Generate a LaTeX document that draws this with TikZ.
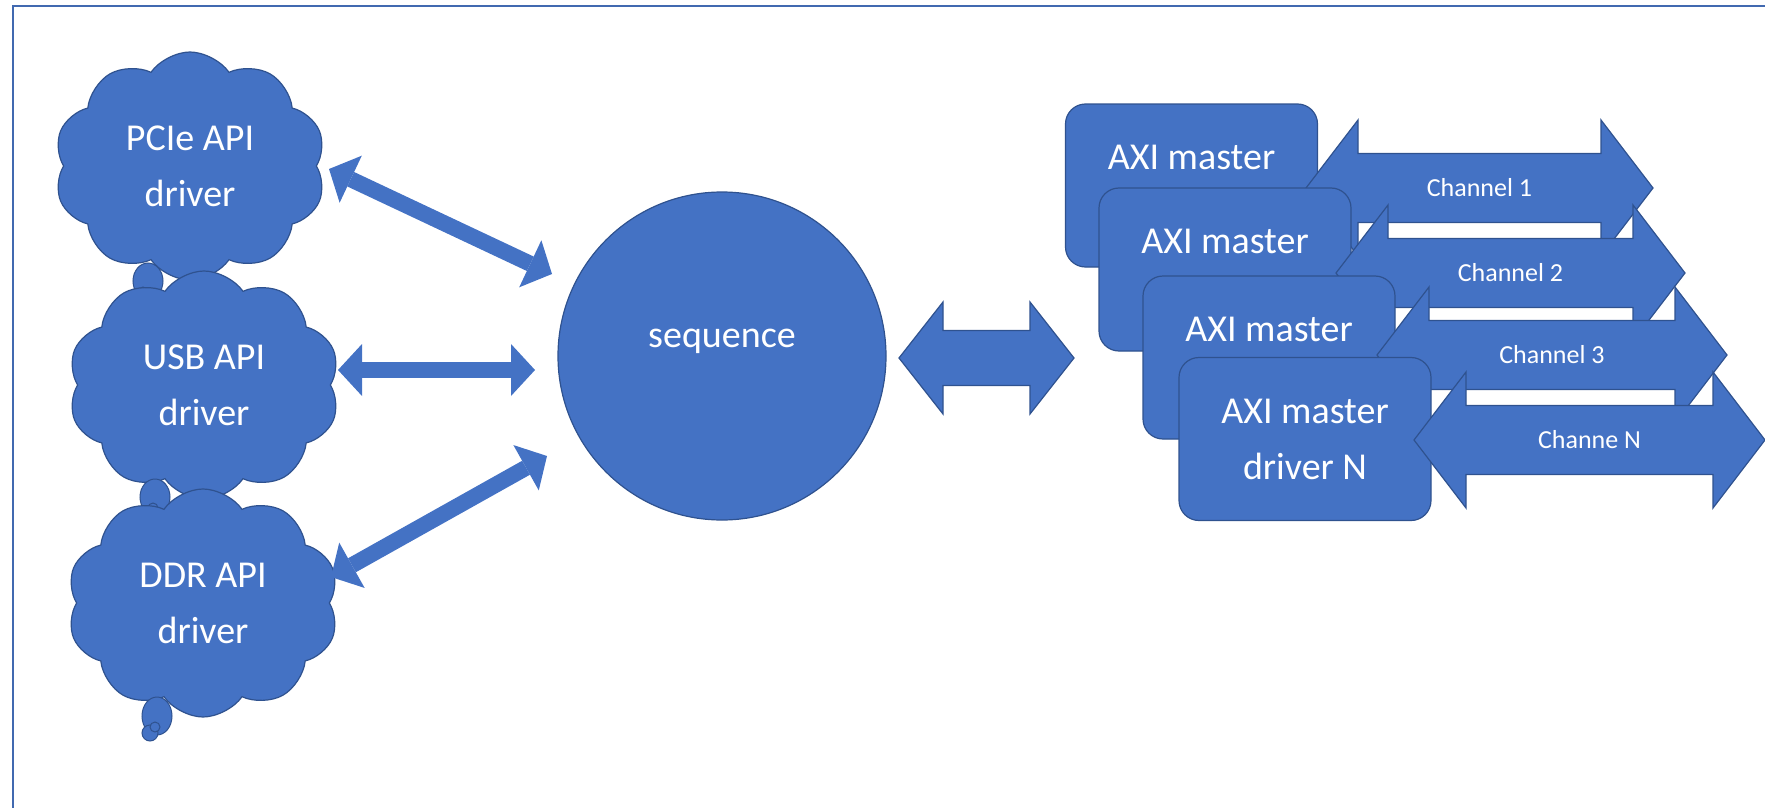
\documentclass[tikz,border=0pt]{standalone}
\usepackage{fontspec}
\setmainfont{Carlito}
\usetikzlibrary{shapes.symbols,arrows.meta,calc}
\definecolor{ofblue}{HTML}{4472C4}
\definecolor{ofdark}{HTML}{2F528F}
\definecolor{framec}{HTML}{4169B0}
\newcommand\blockarrow[5]{%
  \filldraw[blockar] (#1) -- ($(#1)+(#5,#4)$) -- ($(#1)+(#5,#3)$) -- ($(#2)+(-#5,#3)$) -- ($(#2)+(-#5,#4)$) -- (#2) -- ($(#2)+(-#5,-#4)$) -- ($(#2)+(-#5,-#3)$) -- ($(#1)+(#5,-#3)$) -- ($(#1)+(#5,-#4)$) -- cycle;}
\tikzset{
  cloudbox/.style={cloud, cloud puffs=10, cloud puff arc=110, cloud ignores aspect,
    minimum width=272pt, minimum height=228pt, fill=ofblue, draw=ofdark, line width=1.2pt,
    text=white, align=center, font=\fontsize{38}{56}\selectfont, inner sep=0pt},
  bubble/.style={fill=ofblue, draw=ofdark, line width=1pt},
  masterbox/.style={rectangle, rounded corners=20pt, minimum width=252pt, minimum height=163pt,
    fill=ofblue, draw=ofdark, line width=1.2pt, text=white, align=center,
    font=\fontsize{38}{56}\selectfont},
  blockar/.style={fill=ofblue, draw=ofdark, line width=1.2pt, line join=miter},
  thinar/.style={draw=ofblue, line width=16pt,
    {Triangle[width=52pt,length=24pt,line width=0pt]}-{Triangle[width=52pt,length=24pt,line width=0pt]}},
  chlabel/.style={text=white, font=\fontsize{26}{30}\selectfont, inner sep=0pt},
  framestyle/.style={draw=framec, line width=2.5pt},
}
\begin{document}
\begin{tikzpicture}[x=1pt,y=-1pt]
\useasboundingbox (0,0) rectangle (1765,808);
% frame
\draw[framestyle] (13,820) -- (13,6) -- (1780,6);

% clouds
\node[cloudbox] (pcie) at (190,166) {PCIe API\\driver};
\draw[bubble] (148,281) ellipse [x radius=15, y radius=18];
\draw[bubble] (138,297) circle [radius=7];
\draw[bubble] (143,292) circle [radius=5];

\node[cloudbox] (usb) at (204,385) {USB API\\driver};
\draw[bubble] (155,497) ellipse [x radius=15, y radius=18];
\draw[bubble] (148,513) circle [radius=7];
\draw[bubble] (153,508) circle [radius=5];

\node[cloudbox] (ddr) at (203,603) {DDR API\\driver};
\draw[bubble] (157,716) ellipse [x radius=15, y radius=19];
\draw[bubble] (150,733) circle [radius=8];
\draw[bubble] (155,727) circle [radius=5];

% sequence circle
\node[circle, minimum size=328pt, inner sep=0pt, fill=ofblue, draw=ofdark, line width=1.2pt,
      text=white, align=center, font=\fontsize{38}{36}\selectfont] (seq) at (722,356) {sequence\\\phantom{x}};

% thin arrows
\coordinate (pa1) at (329,169);
\coordinate (pa2) at (552,274);
\coordinate (ua1) at (338,370);
\coordinate (ua2) at (535,370);
\coordinate (da1) at (331,577);
\coordinate (da2) at (547,456);
\draw[thinar] (pa1) -- (pa2);
\draw[thinar] (ua1) -- (ua2);
\draw[thinar] (da1) -- (da2);

% center arrow
\coordinate (cL) at (899,358);
\coordinate (cR) at (1074,358);
\blockarrow{cL}{cR}{27.5}{56}{44}

% AXI masters and channels
\node[masterbox] (m1) at (1191.5,185.5) {AXI master\\\phantom{driver 1}};
\coordinate (c1L) at (1306,188);
\coordinate (c1R) at (1653,188);
\blockarrow{c1L}{c1R}{34.5}{68}{52}
\node[chlabel] (l1) at ($(c1L)!0.5!(c1R)$) {Channel 1};

\node[masterbox] (m2) at (1225,269.5) {AXI master\\\phantom{driver 2}};
\coordinate (c2L) at (1336,273);
\coordinate (c2R) at (1685,273);
\blockarrow{c2L}{c2R}{34.5}{68}{52}
\node[chlabel] (l2) at ($(c2L)!0.5!(c2R)$) {Channel 2};

\node[masterbox] (m3) at (1269,357.5) {AXI master\\\phantom{driver 3}};
\coordinate (c3L) at (1377,355);
\coordinate (c3R) at (1727,355);
\blockarrow{c3L}{c3R}{34.5}{68}{52}
\node[chlabel] (l3) at ($(c3L)!0.5!(c3R)$) {Channel 3};

\node[masterbox] (m4) at (1305,439) {AXI master\\driver N};
\coordinate (c4L) at (1414,440);
\coordinate (c4R) at (1765,440);
\blockarrow{c4L}{c4R}{34.5}{68}{52}
\node[chlabel] (l4) at ($(c4L)!0.5!(c4R)$) {Channe N};
\end{tikzpicture}
\end{document}
